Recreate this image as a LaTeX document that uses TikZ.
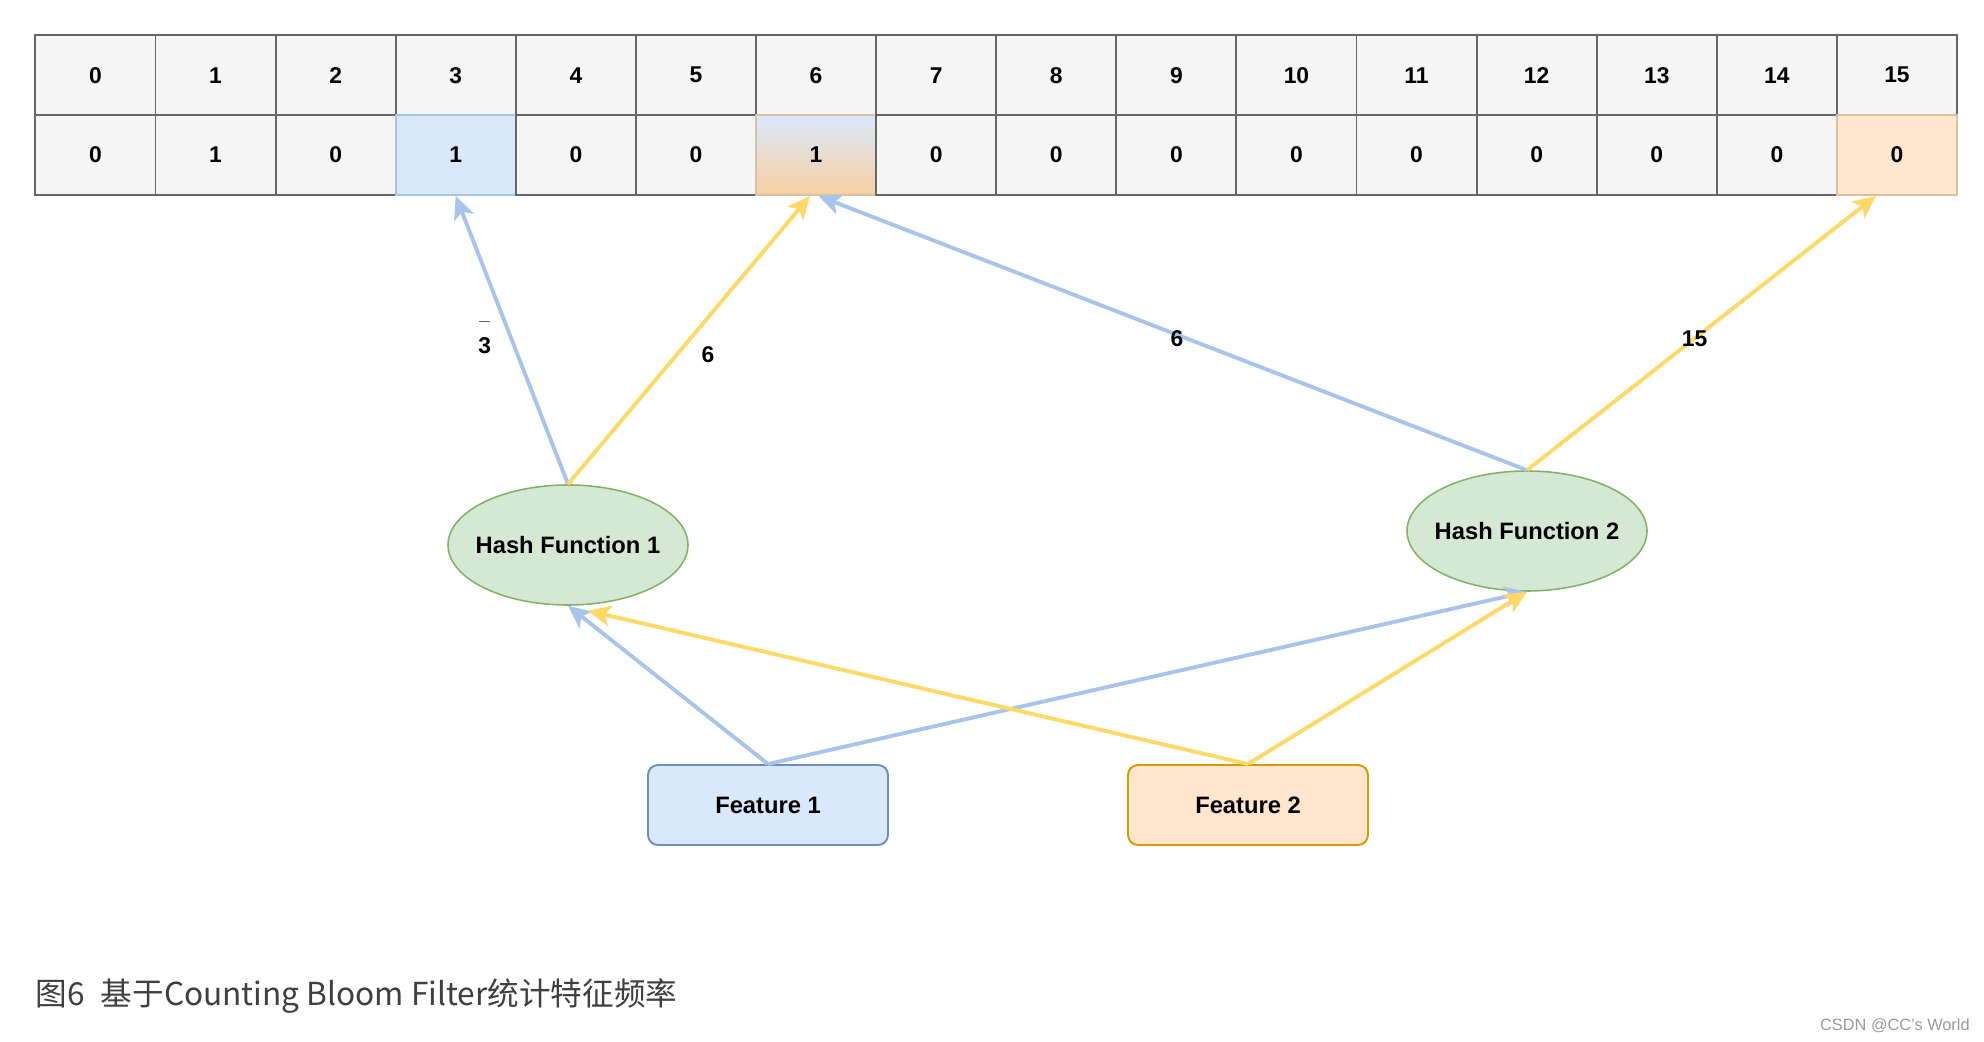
\documentclass[tikz,border=0pt]{standalone}
\usepackage{fontspec}
\setmainfont{Liberation Sans}
\newfontfamily\cjkfont{Noto Sans CJK SC}
\usetikzlibrary{shapes.geometric,arrows.meta}

\definecolor{cellgray}{HTML}{F5F5F5}
\definecolor{celledge}{HTML}{666666}
\definecolor{bluefill}{HTML}{DAE8FC}
\definecolor{blueedge}{HTML}{6C8EBF}
\definecolor{bluearrow}{HTML}{A9C4EB}
\definecolor{orangefill}{HTML}{FFE6CC}
\definecolor{orangeedge}{HTML}{D79B00}
\definecolor{tanedge}{HTML}{D8C2A4}
\definecolor{yellowarrow}{HTML}{FFD966}
\definecolor{greenfill}{HTML}{D5E8D4}
\definecolor{greenedge}{HTML}{82B366}
\definecolor{gradbottom}{HTML}{F7CFA1}
\definecolor{captiongray}{HTML}{3F3F3F}
\definecolor{markgray}{HTML}{9A9A9A}

\tikzset{
  cell/.style={draw=celledge, fill=cellgray, line width=1.1pt,
    minimum width=2.402cm, minimum height=1.6cm, inner sep=0pt,
    font=\fontsize{13}{15}\selectfont\bfseries},
  hitblue/.style={cell, draw=bluearrow, fill=bluefill},
  hitboth/.style={cell, draw=tanedge, top color=bluefill, bottom color=gradbottom},
  hitorange/.style={cell, draw=tanedge, fill=orangefill},
  hash/.style={ellipse, draw=greenedge, fill=greenfill, line width=0.9pt,
    minimum width=4.8cm, minimum height=2.4cm, inner xsep=-0.16cm, inner ysep=0pt,
    font=\fontsize{13.5}{16}\selectfont\bfseries},
  feature/.style={rectangle, rounded corners=0.2cm, line width=1.1pt,
    minimum width=4.8cm, minimum height=1.6cm,
    font=\fontsize{13.5}{16}\selectfont\bfseries},
  blueline/.style={draw=bluearrow, line width=2.2pt,
    -{Stealth[length=0.46cm, width=0.42cm, inset=0.12cm]}},
  yellowline/.style={draw=yellowarrow, line width=2.2pt,
    -{Stealth[length=0.46cm, width=0.42cm, inset=0.12cm]}},
  edgelabel/.style={font=\fontsize{13}{15}\selectfont\bfseries, inner sep=1pt}
}

\begin{document}
\begin{tikzpicture}
  \useasboundingbox (0,0) rectangle (39.68,20.84);
  \foreach \i/\v/\s in {0/0/cell,1/1/cell,2/0/cell,3/1/hitblue,4/0/cell,5/0/cell,
      6/1/hitboth,7/0/cell,8/0/cell,9/0/cell,10/0/cell,11/0/cell,12/0/cell,
      13/0/cell,14/0/cell,15/0/hitorange}{
    \node[cell] (idx\i) at ({0.708+(\i+0.5)*2.402},19.335) {\i};
    \node[\s] (val\i) at ({0.708+(\i+0.5)*2.402},17.74) {\v};
  }
  \node[hash] (hf1) at (11.36,9.94) {Hash Function 1};
  \node[hash] (hf2) at (30.54,10.22) {Hash Function 2};
  \node[feature, draw=blueedge, fill=bluefill] (feat1) at (15.36,4.74) {Feature 1};
  \node[feature, draw=orangeedge, fill=orangefill] (feat2) at (24.96,4.74) {Feature 2};

  \draw[blueline] (hf1.north) -- node[edgelabel, pos=0.51, xshift=-0.52cm]
       {\shortstack[c]{{\color{celledge}\rule{0.22cm}{0.5pt}}\\[0.2cm]3}} (val3.south);
  \draw[yellowline] (hf1.north) -- node[edgelabel, pos=0.45, xshift=0.62cm] {6}
       ([xshift=-0.12cm]val6.south);
  \draw[blueline] (hf2.north) -- node[edgelabel, pos=0.48, xshift=-0.2cm] {6}
       ([xshift=0.05cm]val6.south);
  \draw[yellowline] (hf2.north) -- node[edgelabel, pos=0.48] {15}
       ([xshift=-0.42cm]val15.south);

  \draw[blueline] (feat1.north) -- (hf1.south);
  \draw[blueline] (feat1.north) -- (hf2.south);
  \draw[yellowline] (feat2.north) -- ([xshift=0.4cm,yshift=-0.1cm]hf1.south);
  \draw[yellowline] (feat2.north) -- (hf2.south);

  \node[anchor=west, inner sep=0pt, text=captiongray,
        font=\cjkfont\fontsize{18}{20}\selectfont] (caption) at (0.71,0.92)
       {图6\hspace{0.5em}基于Counting Bloom Filter统计特征频率};
  \node[anchor=east, inner sep=0pt, text=markgray,
        font=\fontsize{9.3}{11}\selectfont] (credit) at (39.4,0.32) {CSDN @CC's World};
\end{tikzpicture}
\end{document}
